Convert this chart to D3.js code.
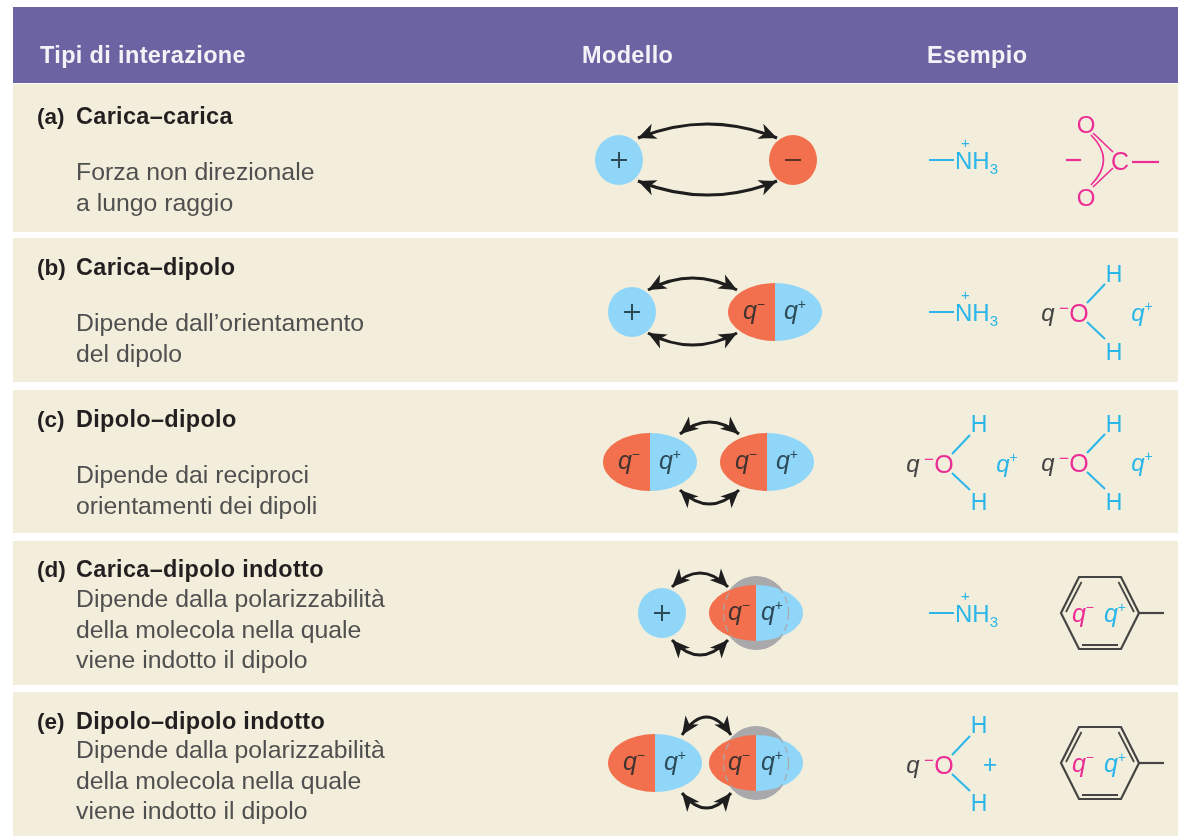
<!DOCTYPE html>
<html><head><meta charset="utf-8">
<script src="https://cdn.jsdelivr.net/npm/d3@7"></script>
<style>html,body{margin:0;padding:0;background:#fff}svg{display:block}text{font-family:"Liberation Sans",Arial,sans-serif}</style>
</head><body><svg id="c" width="1178" height="837"></svg>
<script>
// ---- content ----
const headers = ["Tipi di interazione", "Modello", "Esempio"];
const letters = ["(a)", "(b)", "(c)", "(d)", "(e)"];
const titles = ["Carica–carica", "Carica–dipolo", "Dipolo–dipolo", "Carica–dipolo indotto", "Dipolo–dipolo indotto"];
const descriptions = [
  ["Forza non direzionale", "a lungo raggio"],
  ["Dipende dall’orientamento", "del dipolo"],
  ["Dipende dai reciproci", "orientamenti dei dipoli"],
  ["Dipende dalla polarizzabilità", "della molecola nella quale", "viene indotto il dipolo"],
  ["Dipende dalla polarizzabilità", "della molecola nella quale", "viene indotto il dipolo"]
];
const leftModels = ["plus", "plus", "dipole", "plus", "dipole"];
const rightModels = ["minus", "dipole", "dipole", "induced", "induced"];
const leftExamples = ["ammonium", "ammonium", "water", "ammonium", "waterPlus"];
const rightExamples = ["carboxylate", "water", "water", "benzene", "benzene"];

// ---- layout ----
const rowTop = [84, 238, 390, 541, 692], rowBottom = [232, 382, 533, 685, 836];
const titleY = [124, 275, 427, 577, 729];
const descY = [[180, 211], [331, 362], [483, 514], [607, 638, 668], [758, 789, 819]];
const leftX = [619, 632, 650, 662, 655], rightX = [793, 775, 767, 756, 756];
const cyY = [160, 312, 462, 613, 763];
const arcs = [ // x1, x2, yTopEnd, topPeak, yBottomEnd, bottomPeak
  [638, 777, 138, 124, 181, 195],
  [648, 737, 290, 278, 333, 345],
  [680, 739, 434, 422, 490, 504],
  [672, 728, 587, 573, 640, 655],
  [682, 731, 735, 717, 793, 808]
];
const C = {head:"#6b63a2", row:"#f2eedb", blue:"#8fd6f8", red:"#f2704e", gray:"#a9a8aa",
           cyan:"#2bb6ea", mag:"#ec2d95", dark:"#231f20", body:"#4f4f4f", ink:"#454545"};

const svg = d3.select("#c");
const root = svg.append("g").style("filter", "blur(0.55px)");

// ---- bands ----
root.append("rect").attr("x", 13).attr("y", 7).attr("width", 1165).attr("height", 76).attr("fill", C.head);
root.selectAll("rect.row").data(letters).join("rect").attr("class", "row")
  .attr("x", 13).attr("y", (d, i) => rowTop[i]).attr("width", 1165)
  .attr("height", (d, i) => rowBottom[i] - rowTop[i]).attr("fill", C.row);

// ---- header ----
const headX = [40, 582, 927];
root.selectAll("text.h").data(headers).join("text").attr("class", "h")
  .attr("x", (d, i) => headX[i]).attr("y", 63).text(d => d)
  .attr("fill", "#f4f2f7").attr("font-weight", 700).attr("font-size", 23.5).attr("letter-spacing", 0.35);

// ---- left column ----
letters.forEach((l, i) => {
  root.append("text").attr("x", 37).attr("y", titleY[i]).attr("font-size", 22.5).attr("font-weight", 700)
    .attr("fill", C.dark).text(l);
  root.append("text").attr("x", 76).attr("y", titleY[i]).attr("font-size", 23.5).attr("font-weight", 700)
    .attr("letter-spacing", 0.3).attr("fill", C.dark).text(titles[i]);
  root.selectAll(null).data(descriptions[i]).join("text").attr("x", 76)
    .attr("y", (d, j) => descY[i][j]).attr("font-size", 24.8)
    .attr("fill", C.body).text(d => d);
});

// ---- helpers ----
function label(g, x, y, s, fill, size, anchor, extra) {
  const t = g.append("text").attr("x", x).attr("y", y).attr("fill", fill).attr("font-size", size)
    .attr("text-anchor", anchor || "middle").text(s);
  if (extra) t.attr("font-style", extra);
  return t;
}
function charge(g, x, y, sign, fill, supFill) {
  const t = g.append("text").attr("x", x).attr("y", y + 8).attr("fill", fill)
    .attr("font-size", 25).attr("font-style", "italic").attr("text-anchor", "middle");
  t.append("tspan").text("q");
  t.append("tspan").attr("dy", -10).attr("font-size", 14).attr("font-style", "normal")
    .attr("fill", supFill || fill).text(sign);
}
function ion(g, x, y, sign, fill) {
  g.append("ellipse").attr("cx", x).attr("cy", y).attr("rx", 24).attr("ry", 25).attr("fill", fill);
  const w = 8;
  const p = d3.path();
  p.moveTo(x - w, y); p.lineTo(x + w, y);
  if (sign === "+") { p.moveTo(x, y - w); p.lineTo(x, y + w); }
  g.append("path").attr("d", p.toString()).attr("stroke", sign === "+" ? "#2c4a58" : "#5e3226").attr("stroke-width", 2).attr("fill", "none");
}
function halves(g, cx, cy, rx, ry) {
  g.append("path").attr("d", `M${cx},${cy-ry}A${rx},${ry} 0 0 0 ${cx},${cy+ry}Z`).attr("fill", C.red);
  g.append("path").attr("d", `M${cx},${cy-ry}A${rx},${ry} 0 0 1 ${cx},${cy+ry}Z`).attr("fill", C.blue);
}
function dipole(g, cx, cy) {
  halves(g, cx, cy, 47, 29);
  charge(g, cx - 21, cy - 1, "−", "#40332f");
  charge(g, cx + 20, cy - 1, "+", "#2c4a58");
}
function induced(g, cx, cy) {
  g.append("ellipse").attr("cx", cx).attr("cy", cy).attr("rx", 34).attr("ry", 37).attr("fill", C.gray);
  halves(g, cx, cy, 47, 28);
  g.append("ellipse").attr("cx", cx).attr("cy", cy).attr("rx", 32.5).attr("ry", 36).attr("fill", "none")
    .attr("stroke", C.gray).attr("stroke-width", 1.2).attr("stroke-dasharray", "7 4");
  charge(g, cx - 17, cy - 1, "−", "#40332f");
  charge(g, cx + 16, cy - 1, "+", "#2c4a58");
}
function head(g, x, y, ang) {
  // barbed arrow head with tip at x,y pointing along ang
  const c = Math.cos(ang), s = Math.sin(ang);
  const pt = (a, b) => [x + a * c - b * s, y + a * s + b * c];
  const p = [pt(0, 0), pt(-18, -8), pt(-13, 0), pt(-18, 8)];
  g.append("path").attr("d", d3.line()(p) + "Z").attr("fill", "#1e1e1e");
}
function arrow(g, x1, x2, y, peak) {
  const cy = 2 * peak - y, mx = (x1 + x2) / 2;
  const p = d3.path(); p.moveTo(x1, y); p.quadraticCurveTo(mx, cy, x2, y);
  g.append("path").attr("d", p.toString()).attr("fill", "none").attr("stroke", "#1e1e1e").attr("stroke-width", 3);
  head(g, x1, y, Math.atan2(y - cy, x1 - mx));
  head(g, x2, y, Math.atan2(y - cy, x2 - mx));
}
function seg(g, x1, y1, x2, y2, col, w) {
  g.append("line").attr("x1", x1).attr("y1", y1).attr("x2", x2).attr("y2", y2)
    .attr("stroke", col).attr("stroke-width", w || 2);
}
function ammonium(g, y) {
  seg(g, 929, y, 954, y, C.cyan);
  const t = g.append("text").attr("font-size", 24).attr("fill", C.cyan);
  t.append("tspan").attr("x", 961).attr("y", y - 12).attr("font-size", 15).text("+");
  t.append("tspan").attr("x", 955).attr("y", y + 9).text("NH");
  t.append("tspan").attr("dy", 5).attr("font-size", 15).text("3");
}
function water(g, dx, y, topH, botH, rightSign) {
  label(g, 913 + dx, y + 8, "q", C.ink, 24, "middle", "italic");
  label(g, 929 + dx, y + 1, "−", C.mag, 17);
  label(g, 944 + dx, y + 9, "O", C.mag, 25);
  label(g, 979 + dx, topH + 8, "H", C.cyan, 23);
  label(g, 979 + dx, botH + 8, "H", C.cyan, 23);
  seg(g, 952 + dx, y - 10, 970 + dx, y - 29, C.cyan);
  seg(g, 952 + dx, y + 9, 970 + dx, y + 26, C.cyan);
  if (rightSign) {
    const t = g.append("text").attr("x", 1007 + dx).attr("y", y + 8).attr("font-size", 24)
      .attr("font-style", "italic").attr("text-anchor", "middle").attr("fill", C.cyan);
    t.append("tspan").text("q");
    t.append("tspan").attr("dy", -10).attr("font-size", 14).attr("font-style", "normal").text("+");
  } else {
    label(g, 990 + dx, y + 8, "+", C.cyan, 25);
  }
}
function carboxylate(g, y) {
  label(g, 1086, y - 27, "O", C.mag, 24);
  label(g, 1086, y + 46, "O", C.mag, 24);
  label(g, 1120, y + 10, "C", C.mag, 25);
  seg(g, 1132, y + 2, 1159, y + 2, C.mag, 2.2);
  seg(g, 1066, y, 1081, y, C.mag, 2.2);
  seg(g, 1093, y - 27, 1113, y - 8, C.mag, 1.7);
  seg(g, 1093, y + 27, 1113, y + 8, C.mag, 1.7);
  const p = d3.path(); p.moveTo(1091, y - 25); p.quadraticCurveTo(1116, y, 1091, y + 25);
  g.append("path").attr("d", p.toString()).attr("fill", "none").attr("stroke", C.mag).attr("stroke-width", 1.7);
}
function benzene(g, y) {
  const cx = 1100, R = 39, H = 36, a = 21;
  const v = [[cx - R, y], [cx - a, y - H], [cx + a, y - H], [cx + R, y], [cx + a, y + H], [cx - a, y + H]];
  g.append("path").attr("d", d3.line()(v) + "Z").attr("fill", "none").attr("stroke", C.ink).attr("stroke-width", 2.2);
  seg(g, cx + R, y, 1164, y, C.ink, 2.2);
  seg(g, cx - R + 5, y - 1, cx - a + 2.5, y - H + 5, C.ink, 1.8);
  seg(g, cx + R - 5, y - 1, cx + a - 2.5, y - H + 5, C.ink, 1.8);
  seg(g, cx - a + 3, y + H - 4, cx + a - 3, y + H - 4, C.ink, 1.8);
  charge(g, cx - 17, y + 1, "−", C.mag);
  charge(g, cx + 15, y + 1, "+", C.cyan);
}

// ---- model and example columns ----
letters.forEach((l, i) => {
  const g = root.append("g"), y = cyY[i], a = arcs[i];
  arrow(g, a[0], a[1], a[2], a[3]);
  arrow(g, a[0], a[1], a[4], a[5]);
  if (leftModels[i] === "plus") ion(g, leftX[i], y, "+", C.blue); else dipole(g, leftX[i], y);
  if (rightModels[i] === "minus") ion(g, rightX[i], y, "−", C.red);
  else if (rightModels[i] === "dipole") dipole(g, rightX[i], y);
  else induced(g, rightX[i], y);

  if (leftExamples[i] === "ammonium") ammonium(g, y);
  else water(g, 0, y + 2, y - 38, y + 40, leftExamples[i] === "water");
  if (rightExamples[i] === "carboxylate") carboxylate(g, y);
  else if (rightExamples[i] === "water") water(g, 135, y + 1, y - 38, y + 40, true);
  else benzene(g, y);
});
</script></body></html>
